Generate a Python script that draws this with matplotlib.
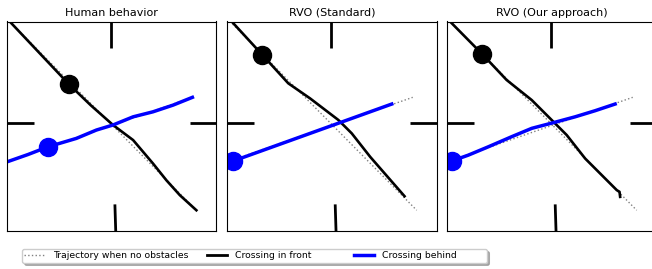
import numpy as np
import matplotlib.pyplot as plt
from matplotlib.lines import Line2D

titles = ['Human behavior', 'RVO (Standard)', 'RVO (Our approach)']

# ideal (no obstacle) paths, shared by all panels
ideal_front_x = [1.3, 90.4]
ideal_front_y = [100.0, 9.9]
ideal_behind_x = [0.0, 88.5]
ideal_behind_y = [33.0, 63.8]

# crossing in front (black)
front_x = [
    [1.3, 29.6, 40.0, 50.6, 60.2, 69.7, 76.1, 82.5, 90.4],
    [2.1, 16.7, 29.1, 39.5, 53.0, 59.4, 68.2, 84.6],
    [1.3, 16.7, 28.3, 40.3, 50.6, 57.0, 65.8, 80.9, 82.2, 82.5],
]
front_y = [
    [100.0, 70.0, 60.0, 50.6, 43.4, 32.2, 24.2, 17.1, 9.9],
    [100.0, 84.1, 70.5, 63.3, 53.0, 46.6, 35.4, 16.6],
    [100.0, 84.4, 72.1, 62.5, 52.2, 45.8, 34.6, 19.5, 18.7, 16.3],
]

# crossing behind (blue)
behind_x = [
    [0.0, 10.0, 19.6, 33.1, 42.7, 50.6, 60.2, 69.7, 79.3, 88.5],
    [2.5, 78.5],
    [2.4, 10.0, 19.6, 30.7, 40.3, 50.6, 61.0, 70.5, 80.1],
]
behind_y = [
    [33.0, 36.5, 40.2, 44.2, 48.2, 50.6, 54.5, 56.9, 60.1, 63.8],
    [33.3, 60.6],
    [33.5, 36.2, 40.2, 45.0, 49.0, 51.7, 54.5, 57.4, 60.6],
]

# agent positions
front_dot = [(29.6, 70.0), (16.7, 84.1), (16.7, 84.4)]
behind_dot = [(19.6, 40.2), (2.5, 33.3), (2.4, 33.5)]

# walls
walls = [
    ([49.5, 49.5], [100, 87.3]),
    ([51.5, 51.9], [12.7, 0]),
    ([0, 12.9], [51.5, 51.5]),
    ([87.2, 100], [51.5, 51.5]),
]

fig = plt.figure(figsize=(6.52, 2.69), dpi=100)
lefts = [7, 227.3, 447.3]
for i in range(3):
    ax = fig.add_axes([lefts[i] / 652, 38 / 269, 209.5 / 652, 209.5 / 269])
    for wx, wy in walls:
        ax.plot(wx, wy, color='black', lw=2, solid_capstyle='butt')
    ax.plot(ideal_front_x, ideal_front_y, ':', color='gray', lw=1)
    ax.plot(ideal_behind_x, ideal_behind_y, ':', color='gray', lw=1)
    ax.plot(front_x[i], front_y[i], color='black', lw=1.9)
    ax.plot(behind_x[i], behind_y[i], color='blue', lw=2.5)
    ax.plot(*front_dot[i], 'o', color='black', ms=13)
    ax.plot(*behind_dot[i], 'o', color='blue', ms=13)
    ax.set_xlim(0, 100)
    ax.set_ylim(0, 100)
    ax.set_xticks([])
    ax.set_yticks([])
    ax.set_title(titles[i], fontsize=8, pad=4)

handles = [
    Line2D([], [], ls=':', color='gray', lw=1),
    Line2D([], [], color='black', lw=2),
    Line2D([], [], color='blue', lw=2.5),
]
labels = ['Trajectory when no obstacles', 'Crossing in front' + ' ' * 8,
          'Crossing behind' + ' ' * 9]
leg = fig.legend(handles, labels, loc='lower left', bbox_to_anchor=(22 / 652, 6.5 / 269),
                 ncol=3, fontsize=6.7, shadow={'color': '0.5', 'alpha': 0.6},
                 fancybox=True, borderpad=0.25, borderaxespad=0,
                 handlelength=2.15, handletextpad=0.93, columnspacing=1.95)
leg.get_frame().set_edgecolor('0.8')

fig.savefig('out.png', dpi=100)
